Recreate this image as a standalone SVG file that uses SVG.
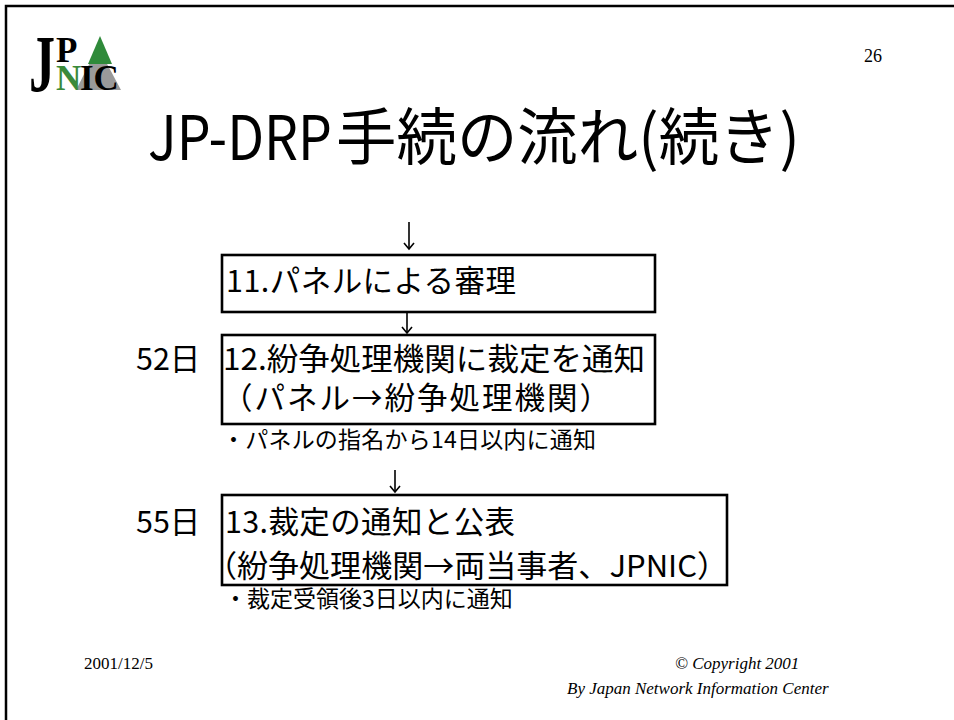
<svg xmlns="http://www.w3.org/2000/svg" width="954" height="720" viewBox="0 0 954 720">
<defs>
<style>
.jp{font-family:"Noto Sans CJK JP","Noto Sans",sans-serif;fill:#000}
.box{fill:#fff;stroke:#000;stroke-width:2.6}
.lbl{font-size:30.5px}
.note{font-size:23px}
.serif{font-family:"Liberation Serif","Noto Sans CJK JP",serif;fill:#000}
.foot{font-size:17px}
.it{font-style:italic}
.conn{stroke:#000;stroke-width:1.6;fill:none}
.logo{font-family:"Liberation Serif",serif;font-weight:bold}
.ttl{font-size:62px}
</style>
<marker id="ah" viewBox="-9 -7 11 14" markerWidth="11" markerHeight="14" refX="0" refY="0" orient="auto" markerUnits="userSpaceOnUse">
<path d="M-6,-5 L0,0 L-6,5" fill="none" stroke="#000" stroke-width="1.6"/>
</marker>
</defs>
<rect x="0" y="0" width="954" height="720" fill="#fff"/>
<path d="M6,720 V6 H954" fill="none" stroke="#000" stroke-width="2.5"/>

<g id="logo">
<polygon points="98,47 121,90 76,90" fill="#9a9a9a"/>
<polygon points="100,36 112,64 88,64" fill="#2f8a3a"/>
<text class="logo" x="29" y="91" font-size="80" textLength="26" lengthAdjust="spacingAndGlyphs" fill="#000">J</text>
<text class="logo" font-size="35" fill="#000"><tspan x="56" y="62">P</tspan><tspan x="56" y="90" fill="#3a8a3a">N</tspan><tspan x="80" y="90">IC</tspan></text>
</g>

<g id="page-number"><text class="serif" x="864" y="62" font-size="18">26</text></g>

<g id="title">
<text class="jp ttl" x="148" y="160" textLength="184" lengthAdjust="spacingAndGlyphs">JP-DRP</text>
<text class="jp ttl" x="336" y="160" textLength="464" lengthAdjust="spacingAndGlyphs">手続の流れ(続き)</text>
</g>

<g id="connectors">
<line class="conn" x1="409" y1="222" x2="409" y2="249" marker-end="url(#ah)"/>
<line class="conn" x1="407" y1="310" x2="407" y2="333" marker-end="url(#ah)"/>
<line class="conn" x1="395" y1="470" x2="395" y2="492" marker-end="url(#ah)"/>
</g>

<g id="step11">
<rect class="box" x="222" y="255" width="433" height="57"/>
<text class="jp lbl" x="226" y="292" textLength="290" lengthAdjust="spacing">11.パネルによる審理</text>
</g>

<g id="step12">
<text class="jp lbl" x="136" y="370">52日</text>
<rect class="box" x="222" y="335" width="433" height="89"/>
<text class="jp lbl" x="223" y="370" textLength="422" lengthAdjust="spacingAndGlyphs">12.紛争処理機関に裁定を通知</text>
<text class="jp lbl" x="222" y="409" textLength="388" lengthAdjust="spacing">（パネル→紛争処理機関）</text>
<text class="jp note" x="222" y="448" textLength="374" lengthAdjust="spacing">・パネルの指名から14日以内に通知</text>
</g>

<g id="step13">
<text class="jp lbl" x="136" y="533">55日</text>
<rect class="box" x="222" y="495" width="505" height="90"/>
<text class="jp lbl" x="225" y="533" textLength="290" lengthAdjust="spacing">13.裁定の通知と公表</text>
<text class="jp lbl" x="206" y="577" textLength="522" lengthAdjust="spacingAndGlyphs">（紛争処理機関→両当事者、JPNIC）</text>
<text class="jp note" x="224" y="607">・裁定受領後3日以内に通知</text>
</g>

<g id="footer">
<text class="serif foot" x="84" y="669">2001/12/5</text>
<text class="serif foot it" x="675" y="669">© Copyright 2001</text>
<text class="serif foot it" x="567" y="694">By Japan Network Information Center</text>
</g>
</svg>
